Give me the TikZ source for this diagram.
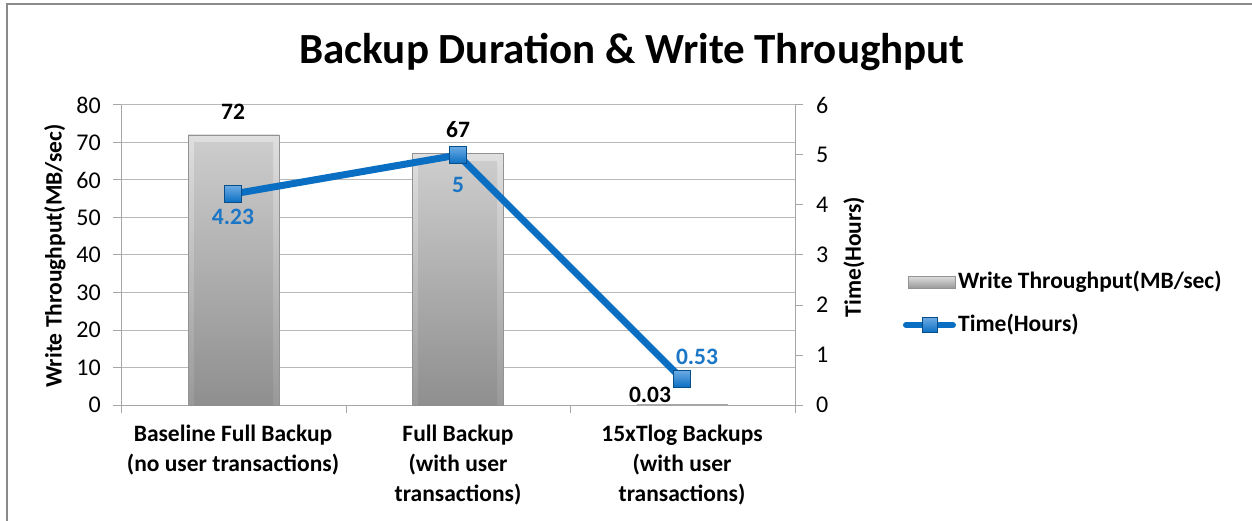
\documentclass[tikz,border=0pt]{standalone}
\usepackage{fontspec}
\setmainfont{Carlito}
\usetikzlibrary{positioning}

\definecolor{serieblue}{HTML}{0A6FC2}
\definecolor{markblue}{HTML}{2B86D9}
\definecolor{labelblue}{HTML}{1C76C6}
\definecolor{gridgray}{HTML}{B8B8B8}
\definecolor{framegray}{HTML}{8A8A8A}

\begin{document}
\begin{tikzpicture}[x=1pt, y=-1pt,
    gridline/.style={gridgray, line width=1pt},
    axisline/.style={gray!70, line width=1pt},
    barbox/.style={draw=gray!85, line width=0.8pt, top color=gray!25, bottom color=gray!80},
    barface/.style={top color=gray!40, bottom color=gray!88},
    marker/.style={draw=serieblue!70!black, top color=markblue!70!white, bottom color=serieblue, minimum size=17pt, inner sep=0pt, line width=1pt},
    ticklabel/.style={font=\fontsize{24}{24}\selectfont, inner sep=0pt},
    catlabel/.style={font=\bfseries\fontsize{23.5}{30}\selectfont, align=center, inner sep=0pt, anchor=north},
    vallabel/.style={font=\bfseries\fontsize{23.5}{24}\selectfont, inner sep=0pt},
    bluelabel/.style={vallabel, text=labelblue},
    axistitle/.style={font=\bfseries\fontsize{23.5}{24}\selectfont, rotate=90, inner sep=0pt}
  ]
  \useasboundingbox (0,0) rectangle (1252,521);
  % frame
  \draw[framegray, line width=2.5pt] (7,521) -- (7,4) -- (1252,4);

  % title
  \node[font=\bfseries\fontsize{43}{43}\selectfont] (title) at (632,52) {Backup Duration \& Write Throughput};

  % grid and left axis
  \foreach \v in {10,20,...,80} {
    \draw[gridline] (121,{405-3.75*\v}) -- (795,{405-3.75*\v});
  }
  \foreach \v in {0,10,...,80} {
    \draw[axisline] (113,{405-3.75*\v}) -- (121,{405-3.75*\v});
    \node[ticklabel, anchor=east] at (101,{405-3.75*\v}) {\v};
  }
  \draw[axisline] (121,105) -- (121,413);

  % right axis
  \foreach \t in {0,...,6} {
    \draw[axisline] (795,{405-50*\t}) -- (803,{405-50*\t});
    \node[ticklabel, anchor=west] at (816,{405-50*\t}) {\t};
  }
  \draw[axisline] (795,105) -- (795,413);

  % category axis
  \draw[axisline] (113,405) -- (803,405);
  \foreach \x in {346,570} {
    \draw[axisline] (\x,405) -- (\x,413);
  }

  % bars
  \draw[barbox] (188,405) rectangle (279,135);
  \fill[barface] (194,405) rectangle (273,143);
  \draw[barbox] (412,405) rectangle (503,153.75);
  \fill[barface] (418,405) rectangle (497,161.75);
  \draw[gray!70, line width=1.5pt] (637,404.5) -- (728,404.5);

  % bar values
  \node[vallabel] (v1) at (233,112) {72};
  \node[vallabel] (v2) at (458,130) {67};
  \node[vallabel] (v3) at (650,395) {0.03};

  % time series
  \coordinate (p1) at (233,194);
  \coordinate (p2) at (458,155);
  \coordinate (p3) at (682,379);
  \draw[serieblue, line width=7pt, line join=round] (p1) -- (p2) -- (p3);
  \node[marker] (m1) at (p1) {};
  \node[marker] (m2) at (p2) {};
  \node[marker] (m3) at (p3) {};
  \node[bluelabel] (t1) at (233,217) {4.23};
  \node[bluelabel] (t2) at (458,185) {5};
  \node[bluelabel] (t3) at (697,357) {0.53};

  % categories
  \node[catlabel] (c1) at (233,425) {Baseline Full Backup\\(no user transactions)};
  \node[catlabel] (c2) at (458,425) {Full Backup\\(with user\\transactions)};
  \node[catlabel] (c3) at (682,425) {15xTlog Backups\\(with user\\transactions)};

  % axis titles
  \node[axistitle] (ylab) at (55,256) {Write Throughput(MB/sec)};
  \node[axistitle] (y2lab) at (854,257) {Time(Hours)};

  % legend
  \draw[barbox] (908,276) rectangle (955,288);
  \node[vallabel, anchor=west] (lg1) at (958,282) {Write Throughput(MB/sec)};
  \draw[serieblue, line width=6pt, line cap=round] (906,325) -- (953,325);
  \node[marker, minimum size=15pt] (lm) at (929.5,325) {};
  \node[vallabel, anchor=west] (lg2) at (958,325) {Time(Hours)};
\end{tikzpicture}
\end{document}
